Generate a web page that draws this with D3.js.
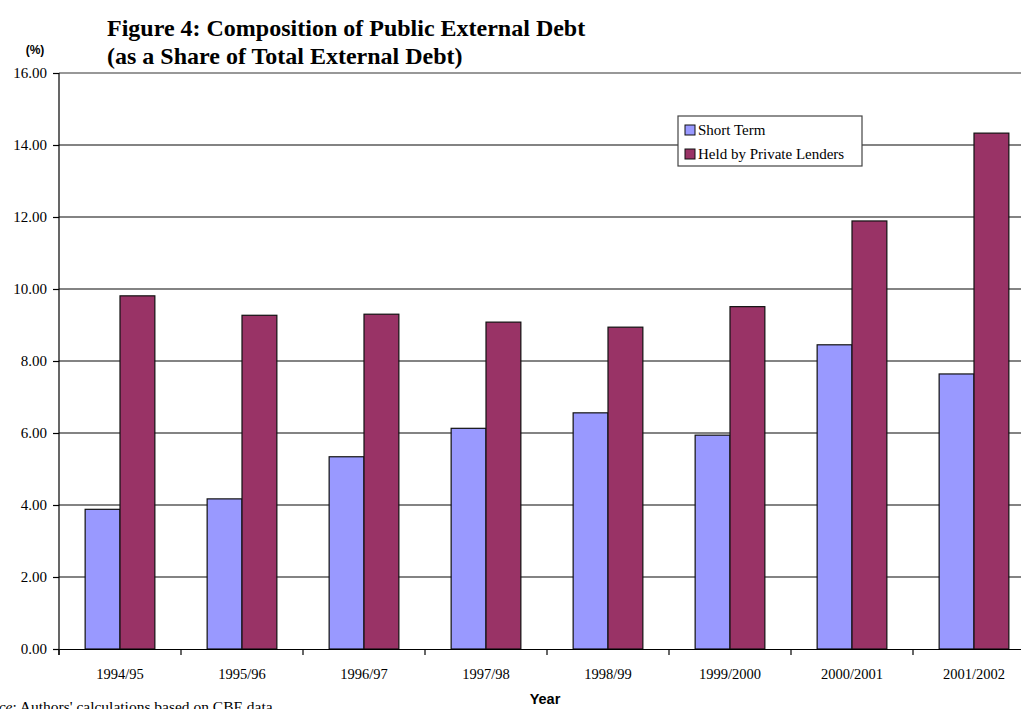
<!DOCTYPE html>
<html>
<head>
<meta charset="utf-8">
<script src="https://cdn.jsdelivr.net/npm/d3@7"></script>
<style>
  html, body { margin: 0; padding: 0; background: #fff; overflow: hidden; }
  svg { display: block; }
  .serif { font-family: "Liberation Serif", "Times New Roman", Times, serif; }
  .sans { font-family: "Liberation Sans", Arial, Helvetica, sans-serif; }
</style>
</head>
<body>
<svg id="chart" width="1021" height="709"></svg>
<script>
// Fiscal years on the category axis
const years = ["1994/95", "1995/96", "1996/97", "1997/98", "1998/99", "1999/2000", "2000/2001", "2001/2002"];
// Series names
const seriesNames = ["Short Term", "Held by Private Lenders"];
// Shares of total external debt (%)
const shortTerm = [3.88, 4.17, 5.34, 6.13, 6.56, 5.94, 8.45, 7.64];
const privateLenders = [9.81, 9.27, 9.30, 9.08, 8.94, 9.51, 11.89, 14.33];
// Value axis ticks
const yTicks = [0, 2, 4, 6, 8, 10, 12, 14, 16];

const seriesValues = [shortTerm, privateLenders];
const colors = ["#9999FF", "#993366"];

const svg = d3.select("#chart");

const plotLeft = 59, plotRight = 1035, plotTop = 73, plotBottom = 649;

const x0 = d3.scaleBand().domain(years).range([plotLeft, plotRight]).paddingInner(0).paddingOuter(0);
const x1 = d3.scaleBand().domain(seriesNames).range([0, x0.bandwidth()]).paddingInner(0).paddingOuter(0.75);
const y = d3.scaleLinear().domain([0, 16]).range([plotBottom, plotTop]);

// Horizontal gridlines
svg.append("g")
  .selectAll("line")
  .data(yTicks.filter(t => t > 0 && t < 16))
  .join("line")
  .attr("x1", plotLeft).attr("x2", plotRight)
  .attr("y1", d => y(d)).attr("y2", d => y(d))
  .attr("stroke", "#5a5a5a").attr("stroke-width", 1.4);

// Top border of the plot area
svg.append("line")
  .attr("x1", plotLeft).attr("x2", plotRight)
  .attr("y1", y(16)).attr("y2", y(16))
  .attr("stroke", "#333").attr("stroke-width", 1.2);

// Bars
const groups = svg.append("g")
  .selectAll("g")
  .data(years)
  .join("g")
  .attr("transform", d => `translate(${x0(d)},0)`);

groups.selectAll("rect")
  .data((d, i) => seriesNames.map((s, k) => ({ s, k, v: seriesValues[k][i] })))
  .join("rect")
  .attr("x", d => x1(d.s))
  .attr("width", x1.bandwidth())
  .attr("y", d => y(d.v))
  .attr("height", d => y(0) - y(d.v))
  .attr("fill", d => colors[d.k])
  .attr("stroke", "#111")
  .attr("stroke-width", 1.2);

// Y axis
const yAxis = d3.axisLeft(y)
  .tickValues(yTicks)
  .tickFormat(d3.format(".2f"))
  .tickSize(6)
  .tickPadding(6);
const gy = svg.append("g").attr("transform", `translate(${plotLeft},0)`).call(yAxis);
gy.attr("font-family", null).attr("font-size", null);
gy.select(".domain").attr("stroke", "#000").attr("stroke-width", 1.2).attr("d", `M0,${plotTop}V${plotBottom + 6}`);
gy.selectAll(".tick line").attr("stroke", "#000").attr("stroke-width", 1.2);
gy.selectAll(".tick text").attr("class", "serif").attr("font-size", 15).attr("fill", "#000");

// X axis
const xAxis = d3.axisBottom(x0).tickSize(0).tickPadding(20);
const gx = svg.append("g").attr("transform", `translate(0,${plotBottom})`).call(xAxis);
gx.attr("font-family", null).attr("font-size", null);
gx.select(".domain").attr("stroke", "#000").attr("stroke-width", 1.2);
gx.selectAll(".tick text").attr("class", "serif").attr("font-size", 14.5).attr("fill", "#000");
// Category separator ticks
svg.append("g")
  .selectAll("line")
  .data(years.concat([null]))
  .join("line")
  .attr("x1", (d, i) => plotLeft + i * x0.step())
  .attr("x2", (d, i) => plotLeft + i * x0.step())
  .attr("y1", plotBottom).attr("y2", plotBottom + 6)
  .attr("stroke", "#000").attr("stroke-width", 1.2);

// Title
const title = svg.append("text").attr("class", "serif")
  .attr("font-weight", "bold").attr("font-size", 24).attr("fill", "#000");
title.append("tspan").attr("x", 107).attr("y", 36).text("Figure 4: Composition of Public External Debt");
title.append("tspan").attr("x", 107).attr("y", 64).text("(as a Share of Total External Debt)");

// Unit label
svg.append("text").attr("class", "sans")
  .attr("x", 35).attr("y", 54).attr("text-anchor", "middle")
  .attr("font-weight", "bold").attr("font-size", 12)
  .text("(%)");

// Axis title
svg.append("text").attr("class", "sans")
  .attr("x", 545).attr("y", 704).attr("text-anchor", "middle")
  .attr("font-weight", "bold").attr("font-size", 14.5)
  .text("Year");

// Source note
const src = svg.append("text").attr("class", "serif")
  .attr("x", -30).attr("y", 712)
  .attr("font-size", 15.5);
src.append("tspan").attr("font-style", "italic").text("Source");
src.append("tspan").text(": Authors' calculations based on CBE data.");

// Legend
const lg = svg.append("g").attr("transform", "translate(678,116)");
lg.append("rect").attr("width", 184).attr("height", 50)
  .attr("fill", "#fff").attr("stroke", "#444").attr("stroke-width", 1.2);
seriesNames.forEach((s, k) => {
  const row = lg.append("g").attr("transform", `translate(7,${9 + k * 24})`);
  row.append("rect").attr("width", 10).attr("height", 10)
    .attr("fill", colors[k]).attr("stroke", "#111").attr("stroke-width", 1);
  row.append("text").attr("class", "serif").attr("x", 13).attr("y", 10)
    .attr("font-size", 15).text(s);
});
</script>
</body>
</html>
